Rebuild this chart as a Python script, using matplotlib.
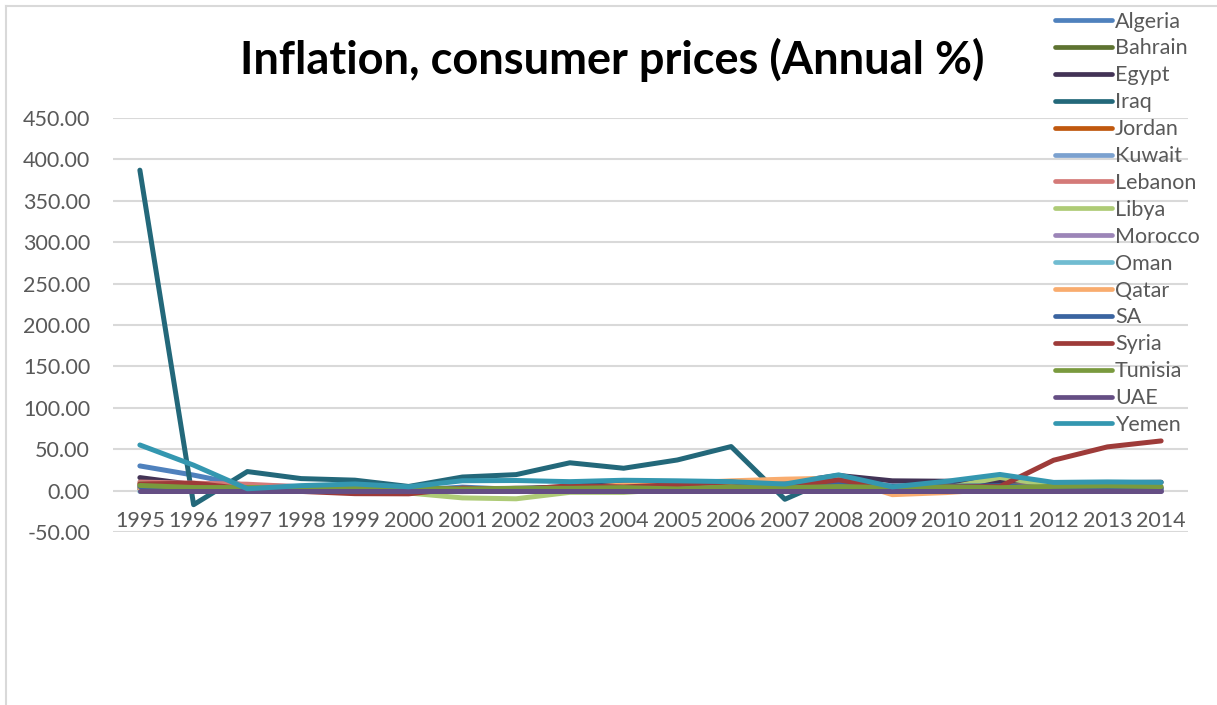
import matplotlib
matplotlib.use("Agg")
import matplotlib.pyplot as plt
from matplotlib.lines import Line2D

plt.rcParams["font.family"] = ["Lato", "DejaVu Sans"]

# ---- data ----
years = [str(y) for y in range(1995, 2015)]

algeria = [29.8, 18.7, 5.7, 5.0, 2.6, 0.3, 4.2, 1.4, 2.6, 3.6, 1.6, 2.3, 3.7, 4.9, 5.7, 3.9, 4.5, 8.9, 3.3, 2.9]
bahrain = [2.7, -0.1, 4.6, -0.4, -1.3, -0.7, -1.2, -0.5, 1.6, 2.3, 2.6, 2.0, 3.3, 3.5, 2.8, 2.0, -0.4, 2.8, 3.3, 2.7]
egypt = [15.7, 7.2, 4.6, 4.2, 3.1, 2.7, 2.3, 2.7, 4.5, 11.3, 4.9, 7.6, 9.3, 18.3, 11.8, 11.3, 10.1, 7.1, 9.5, 10.1]
iraq = [387.0, -17.0, 23.0, 14.5, 12.6, 5.0, 16.4, 19.3, 33.6, 27.0, 37.0, 53.2, -10.5, 18.0, 2.0, 2.4, 5.6, 6.1, 1.9, 2.2]
jordan = [2.3, 6.5, 3.0, 3.1, 0.6, 0.7, 1.8, 1.8, 1.6, 3.4, 3.5, 6.3, 4.7, 13.9, -0.7, 5.0, 4.2, 4.5, 4.8, 2.9]
kuwait = [2.7, 3.6, 0.7, 0.1, 3.1, 1.6, 1.4, 0.8, 1.0, 1.3, 4.1, 3.1, 5.5, 10.6, 4.0, 4.5, 4.9, 3.2, 2.7, 2.9]
lebanon = [10.3, 8.9, 7.7, 4.5, 0.2, -0.4, -0.4, 1.8, 1.3, 1.7, -0.7, 5.6, 4.1, 10.8, 1.2, 4.5, 5.0, 6.6, 4.8, 1.9]
libya = [8.3, 4.0, 3.6, 3.7, 2.6, -2.9, -8.8, -9.9, -2.1, -2.2, 2.0, 1.4, 6.2, 10.4, 2.5, 2.8, 15.9, 6.1, 2.6, 2.4]
morocco = [6.1, 3.0, 1.0, 2.7, 0.7, 1.9, 0.6, 2.8, 1.2, 1.5, 1.0, 3.3, 2.0, 3.7, 1.0, 1.0, 0.9, 1.3, 1.9, 0.4]
oman = [-1.1, 0.3, -0.4, 0.4, 0.5, -1.2, -0.8, -0.3, 0.2, 0.8, 1.9, 3.4, 5.9, 12.6, 3.5, 3.3, 4.0, 2.9, 1.2, 1.0]
qatar = [3.0, 7.4, 2.6, 2.9, 2.2, 1.7, 1.4, 0.2, 2.3, 6.8, 8.8, 11.8, 13.8, 15.1, -4.9, -2.4, 1.9, 1.9, 3.1, 3.4]
sa = [4.9, 1.2, 0.1, -0.4, -1.3, -1.1, -1.1, 0.2, 0.6, 0.4, 0.7, 2.2, 4.2, 9.9, 5.1, 5.3, 5.8, 2.9, 3.5, 2.7]
syria = [8.0, 8.9, 1.9, -1.0, -3.7, -3.9, 3.0, 1.0, 5.8, 4.4, 7.2, 10.4, 4.7, 13.0, 2.8, 4.4, 4.8, 36.7, 52.8, 60.0]
tunisia = [6.2, 3.7, 3.7, 3.1, 2.7, 3.0, 1.9, 2.7, 2.7, 3.6, 2.0, 4.5, 3.4, 4.9, 3.5, 4.4, 3.5, 5.1, 5.8, 4.9]
uae = [0, 0, 0, 0, 0, 0, 0, 0, 0, 0, 0, 0, 0, 0, 0, 0, 0, 0, 0, 0]
yemen = [55.1, 30.7, 2.2, 6.0, 8.0, 4.6, 11.9, 12.2, 10.8, 12.5, 11.8, 10.8, 7.9, 19.0, 4.5, 11.2, 19.5, 9.9, 10.5, 10.0]

countries = ["Algeria", "Bahrain", "Egypt", "Iraq", "Jordan", "Kuwait", "Lebanon", "Libya",
             "Morocco", "Oman", "Qatar", "SA", "Syria", "Tunisia", "UAE", "Yemen"]
series = [algeria, bahrain, egypt, iraq, jordan, kuwait, lebanon, libya,
          morocco, oman, qatar, sa, syria, tunisia, uae, yemen]
colors = ["#4F81BD", "#5E7331", "#433356", "#23687A", "#C0580E", "#7BA1CF", "#D47A78", "#AECB76",
          "#9C85B8", "#71BCD1", "#F9AC6E", "#3A64A0", "#9E3B39", "#7A9A3E", "#654E84", "#3497B0"]

GRID = "#D9D9D9"
TEXT = "#595959"

fig = plt.figure(figsize=(12.17, 7.05), dpi=100)
ax = fig.add_axes([113 / 1217, 1 - 532 / 705, 1075 / 1217, 414 / 705])

x = list(range(len(years)))
for name, vals, col in zip(countries, series, colors):
    ax.plot(x, vals, color=col, lw=3.6, label=name, solid_capstyle="round", solid_joinstyle="round")

ax.set_xlim(-0.5, len(years) - 0.5)
ax.set_ylim(-50, 450)
ax.set_yticks(range(-50, 451, 50))
ax.set_yticklabels([f"{v:.2f}" for v in range(-50, 451, 50)])
ax.set_xticks(x)
ax.set_xticklabels(years)
ax.grid(axis="y", color=GRID, lw=1.5)
ax.set_axisbelow(True)
for s in ["top", "right", "left"]:
    ax.spines[s].set_visible(False)
ax.spines["bottom"].set_position(("data", 0))
ax.spines["bottom"].set_color("none")
ax.tick_params(axis="both", length=0, labelsize=15.5, colors=TEXT)
ax.tick_params(axis="y", pad=16.5)
ax.tick_params(axis="x", pad=15)

fig.text(612 / 1217, 1 - 60 / 705, "Inflation, consumer prices (Annual %)",
         fontsize=32.5, fontweight="bold", ha="center", va="center", color="black")

leg = fig.legend(loc="upper left", bbox_to_anchor=(1046 / 1217, 1 - 3 / 705), frameon=False,
                 fontsize=15.5, handlelength=2.65, handletextpad=0.15, labelspacing=0.32,
                 borderaxespad=0)
for t in leg.get_texts():
    t.set_color(TEXT)
for h in leg.get_lines():
    h.set_linewidth(3.4)

# chart area border (only top and left edges fall inside the picture)
fig.add_artist(Line2D([6 / 1217, 1], [1 - 6 / 705, 1 - 6 / 705], color=GRID, lw=1.5))
fig.add_artist(Line2D([6 / 1217, 6 / 1217], [0, 1 - 6 / 705], color=GRID, lw=1.5))

fig.savefig("out.png", dpi=100)
